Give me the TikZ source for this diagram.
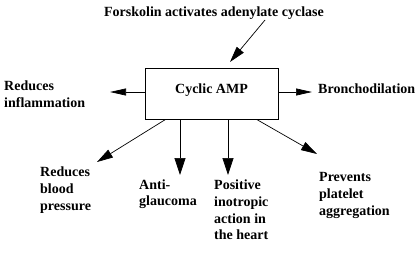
\documentclass[tikz,border=0pt]{standalone}
\usepackage{fontspec}
\setmainfont{Liberation Serif}
\usetikzlibrary{arrows.meta}
\begin{document}
\begin{tikzpicture}[x=1pt,y=-1pt,
  txt/.style={font=\bfseries\fontsize{14}{16.8}\selectfont, inner sep=0pt, align=left, anchor=base west},
  conn/.style={line width=0.7pt},
  harr/.style={conn, -{Triangle[length=16pt,width=7pt]}},
  varr/.style={conn, -{Triangle[length=17pt,width=11pt]}},
  darr/.style={conn, -{Triangle[length=16pt,width=9pt]}},
  boxst/.style={draw, line width=0.8pt, minimum width=133pt, minimum height=51pt, inner sep=0pt,
    font=\bfseries\fontsize{14}{16.8}\selectfont, text height=8pt, text depth=9pt}]
\useasboundingbox (0,0) rectangle (417,252);
\node[txt, anchor=base] (fk) at (214,16) {Forskolin activates adenylate cyclase};
\node[boxst] (cyc) at (211.5,93.5) {Cyclic AMP};
\node[txt] (infl) at (4,107.5) {Reduces\\inflammation};
\node[txt] (bron) at (318,93) {Bronchodilation};
\node[txt] (bp) at (40,210.5) {Reduces\\blood\\pressure};
\node[txt] (ag) at (139,205.8) {Anti-\\glaucoma};
\node[txt] (ino) at (214,239.8) {Positive\\inotropic\\action in\\the heart};
\node[txt] (plt) at (319,215.5) {Prevents\\platelet\\aggregation};
\coordinate (fs) at (265,20);
\coordinate (ft) at (230,62);
\coordinate (tl) at (110,92);
\coordinate (tr) at (312,92);
\coordinate (t1) at (97,162);
\coordinate (t2) at (180,175);
\coordinate (t3) at (228,175);
\coordinate (t4) at (317,154);
\draw[darr] (fs) -- (ft);
\draw[harr] (cyc.west |- tl) -- (tl);
\draw[harr] (cyc.east |- tr) -- (tr);
\draw[darr] ([xshift=21pt]cyc.south west) -- (t1);
\draw[varr] (cyc.south -| t2) -- (t2);
\draw[varr] (cyc.south -| t3) -- (t3);
\draw[darr] ([xshift=112pt]cyc.south west) -- (t4);
\end{tikzpicture}
\end{document}
